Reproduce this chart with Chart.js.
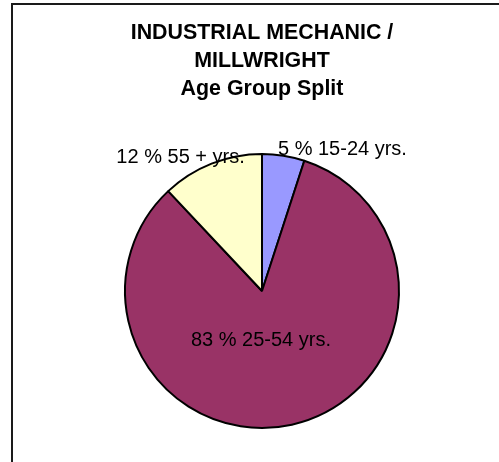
<!DOCTYPE html>
<html>
<head>
<meta charset="utf-8">
<script src="https://cdn.jsdelivr.net/npm/chart.js@4/dist/chart.umd.min.js"></script>
<style>
  html, body { margin: 0; padding: 0; background: #fff; }
  #wrap { position: relative; width: 499px; height: 462px; overflow: hidden; }
  #frame { position: absolute; left: 11px; top: 3px; right: -10px; bottom: -10px;
           border-left: 2px solid #1a1a1a; border-top: 2px solid #1a1a1a; }
  canvas { position: absolute; left: 0; top: 0; }
</style>
</head>
<body>
<div id="wrap">
  <div id="frame"></div>
  <canvas id="chart" width="499" height="462"></canvas>
</div>
<script>
const titleLines = ['INDUSTRIAL MECHANIC /', 'MILLWRIGHT', 'Age Group Split'];
const ageGroups = ['15-24 yrs.', '25-54 yrs.', '55 + yrs.'];
const shares = [5, 83, 12];
const sliceColors = ['#9999FF', '#993366', '#FFFFCC'];

// where each label sits: radius factor along the slice middle, then a nudge
const labelPlace = [
    { r: 1.0, dx: 59, dy: -1 },
    { r: 0.4, dx: -13, dy: 1.5 },
    { r: 1.0, dx: -31, dy: -1 },
];

const sliceLabels = {
    id: 'sliceLabels',
    afterDatasetsDraw(chart) {
        const ctx = chart.ctx;
        const meta = chart.getDatasetMeta(0);
        ctx.save();
        ctx.font = '20px "Liberation Sans", Arial, sans-serif';
        ctx.fillStyle = '#000';
        ctx.textAlign = 'center';
        ctx.textBaseline = 'alphabetic';
        meta.data.forEach((arc, i) => {
            const p = arc.getProps(['x', 'y', 'startAngle', 'endAngle', 'outerRadius'], true);
            const mid = (p.startAngle + p.endAngle) / 2;
            const place = labelPlace[i];
            const x = p.x + Math.cos(mid) * p.outerRadius * place.r + place.dx;
            const y = p.y + Math.sin(mid) * p.outerRadius * place.r + place.dy;
            ctx.fillText(`${shares[i]} % ${ageGroups[i]}`, x, y);
        });
        ctx.restore();
    }
};

new Chart(document.getElementById('chart'), {
    type: 'pie',
    data: {
        labels: ageGroups,
        datasets: [{
            data: shares,
            backgroundColor: sliceColors,
            borderColor: '#000',
            borderWidth: 2,
            radius: 137,
        }],
    },
    options: {
        responsive: false,
        animation: false,
        layout: {
            padding: { left: 25, right: 0, top: 0, bottom: 0 },
        },
        plugins: {
            legend: { display: false },
            tooltip: { enabled: false },
            title: {
                display: true,
                text: titleLines,
                color: '#000',
                font: { family: '"Liberation Sans", Arial, sans-serif', size: 21.4, weight: 'bold', lineHeight: '28px' },
                padding: { top: 19, bottom: 17 },
            },
        },
    },
    plugins: [sliceLabels],
});
</script>
</body>
</html>
